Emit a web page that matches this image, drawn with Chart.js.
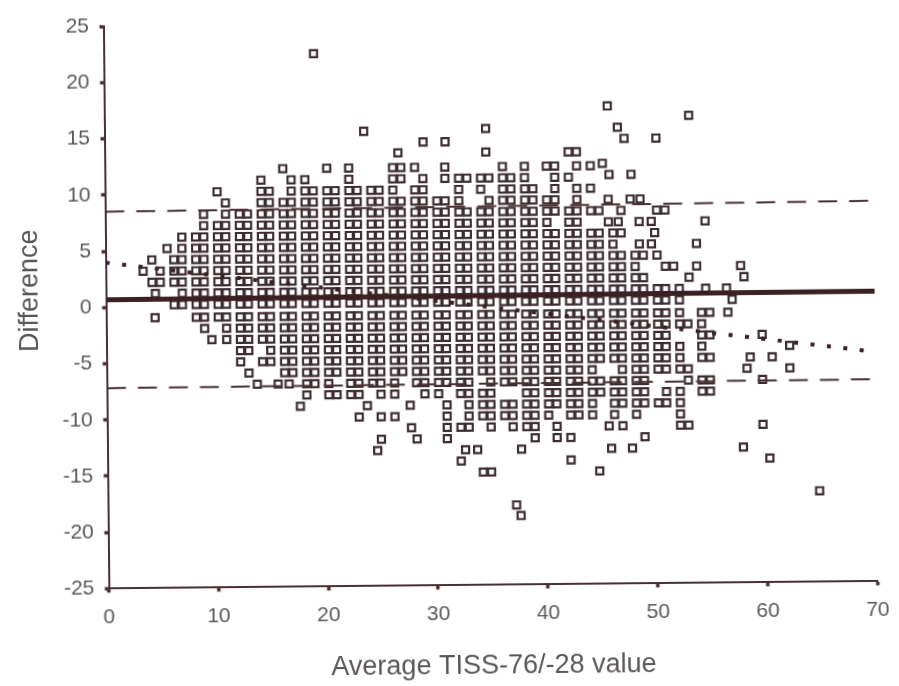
<!DOCTYPE html>
<html>
<head>
<meta charset="utf-8">
<script src="https://cdn.jsdelivr.net/npm/chart.js"></script>
<style>
  html, body { margin: 0; padding: 0; background: #ffffff; overflow: hidden; }
  #chart { display: block; transform: rotate(-0.55deg); transform-origin: 449.5px 343px; }
</style>
</head>
<body>
<canvas id="chart" width="899" height="686"></canvas>
<script>
// ---- Data ----
const xTicks = [0, 10, 20, 30, 40, 50, 60, 70];
const yTicks = [-25, -20, -15, -10, -5, 0, 5, 10, 15, 20, 25];

// Difference value of each row of markers
const diffRowValues = [12.2, 11.2, 10.2, 9.2, 8.2, 7.2, 6.2, 5.2, 4.2, 3.2, 2.2, 1.2, 0.2,
  -0.95, -1.95, -2.95, -3.95, -4.95, -5.95, -6.95, -7.95, -8.95, -9.95, -10.95, -11.95, -12.95, -13.95, -14.95];

// Average values of the markers on each row
const avgRowP12 = [16.2, 20.2, 22.2, 26.2, 26.95, 28.2, 30.95, 36.2, 38.2, 40.2, 40.95, 42.95, 44.2];
const avgRowP11 = [14.2, 16.95, 18.2, 22.2, 26.2, 26.95, 28.95, 30.95, 32.2, 32.95, 34.2, 34.95, 36.2, 36.95, 38.2, 40.95, 42.2];
const avgRowP10 = [10.2, 14.2, 14.95, 16.95, 18.2, 18.95, 20.2, 20.95, 22.2, 22.95, 24.2, 24.95, 26.2, 28.2, 28.95, 32.2, 34.2, 36.2, 36.95, 38.2, 38.95, 40.95, 42.95, 44.2];
const avgRowP9 = [10.95, 14.2, 14.95, 16.2, 16.95, 18.2, 18.95, 20.2, 20.95, 22.2, 22.95, 24.2, 24.95, 26.2, 26.95, 28.2, 28.95, 30.2, 30.95, 32.2, 34.95, 36.2, 36.95, 38.2, 38.95, 40.2, 40.95, 42.95, 45.8, 47.8, 48.7];
const avgRowP8 = [8.95, 10.95, 12.2, 12.95, 14.2, 14.95, 16.2, 16.95, 18.2, 18.95, 20.2, 20.95, 22.2, 22.95, 24.2, 24.95, 26.2, 26.95, 28.2, 28.95, 30.2, 30.95, 32.2, 32.95, 34.2, 34.95, 36.2, 36.95, 38.2, 38.95, 40.2, 40.95, 42.2, 42.95, 44.2, 44.95, 46.95, 50.2, 50.95];
const avgRowP7 = [8.95, 10.2, 10.95, 12.2, 12.95, 14.2, 14.95, 16.2, 16.95, 18.2, 18.95, 20.2, 20.95, 22.2, 22.95, 24.2, 24.95, 26.2, 26.95, 28.2, 28.95, 30.2, 30.95, 32.2, 32.95, 34.2, 34.95, 36.2, 36.95, 38.2, 38.95, 40.2, 42.2, 42.95, 45.8, 46.7, 48.6, 49.7, 54.6];
const avgRowP6 = [6.95, 8.2, 8.95, 10.2, 10.95, 12.2, 12.95, 14.2, 14.95, 16.2, 16.95, 18.2, 18.95, 20.2, 20.95, 22.2, 22.95, 24.2, 24.95, 26.2, 26.95, 28.2, 28.95, 30.2, 30.95, 32.2, 32.95, 34.2, 34.95, 36.2, 36.95, 38.2, 38.95, 40.2, 40.95, 42.2, 42.95, 44.2, 44.95, 46.2, 46.95, 50.0];
const avgRowP5 = [5.6, 6.95, 8.2, 8.95, 10.2, 10.95, 12.2, 12.95, 14.2, 14.95, 16.2, 16.95, 18.2, 18.95, 20.2, 20.95, 22.2, 22.95, 24.2, 24.95, 26.2, 26.95, 28.2, 28.95, 30.2, 30.95, 32.2, 32.95, 34.2, 34.95, 36.2, 36.95, 38.2, 38.95, 40.2, 40.95, 42.2, 42.95, 44.2, 44.95, 46.2, 48.6, 49.7, 53.8];
const avgRowP4 = [4.2, 6.2, 6.95, 8.2, 8.95, 10.2, 10.95, 12.2, 12.95, 14.2, 14.95, 16.2, 16.95, 18.2, 18.95, 20.2, 20.95, 22.2, 22.95, 24.2, 24.95, 26.2, 26.95, 28.2, 28.95, 30.2, 30.95, 32.2, 32.95, 34.2, 34.95, 36.2, 36.95, 38.2, 38.95, 40.2, 40.95, 42.2, 42.95, 44.2, 44.95, 46.2, 46.95, 48.2, 48.95, 50.2];
const avgRowP3 = [3.4, 4.95, 6.2, 6.95, 8.2, 8.95, 10.2, 10.95, 12.2, 12.95, 14.2, 14.95, 16.2, 16.95, 18.2, 18.95, 20.2, 20.95, 22.2, 22.95, 24.2, 24.95, 26.2, 26.95, 28.2, 28.95, 30.2, 30.95, 32.2, 32.95, 34.2, 34.95, 36.2, 36.95, 38.2, 38.95, 40.2, 40.95, 42.2, 42.95, 44.2, 44.95, 46.2, 46.95, 48.2, 50.95, 51.7, 53.8, 57.8];
const avgRowP2 = [4.2, 4.95, 6.2, 6.95, 8.2, 8.95, 10.2, 10.95, 12.2, 12.95, 14.2, 14.95, 16.2, 16.95, 18.2, 18.95, 20.2, 20.95, 22.2, 22.95, 24.2, 24.95, 26.2, 26.95, 28.2, 28.95, 30.2, 30.95, 32.2, 32.95, 34.2, 34.95, 36.2, 36.95, 38.2, 38.95, 40.2, 40.95, 42.2, 42.95, 44.2, 44.95, 46.2, 46.95, 48.2, 48.95, 53.1, 58.1];
const avgRowP1 = [4.5, 6.95, 8.2, 8.95, 10.2, 10.95, 12.2, 12.95, 14.2, 14.95, 16.2, 16.95, 18.2, 18.95, 20.2, 20.95, 22.2, 22.95, 24.2, 24.95, 26.2, 26.95, 28.2, 28.95, 30.2, 30.95, 32.2, 32.95, 34.2, 34.95, 36.2, 36.95, 38.2, 38.95, 40.2, 40.95, 42.2, 42.95, 44.2, 44.95, 46.2, 46.95, 48.2, 48.95, 50.2, 50.95, 52.2, 54.6, 56.5];
const avgRowP0 = [6.2, 6.95, 8.2, 8.95, 10.2, 10.95, 12.2, 12.95, 14.2, 14.95, 16.2, 16.95, 18.2, 18.95, 20.2, 20.95, 22.2, 22.95, 24.2, 24.95, 26.2, 26.95, 28.2, 28.95, 30.2, 30.95, 32.2, 32.95, 34.2, 34.95, 36.2, 36.95, 38.2, 38.95, 40.2, 40.95, 42.2, 42.95, 44.2, 44.95, 46.2, 46.95, 48.2, 48.95, 50.2, 50.95, 52.2, 57.0];
const avgRowM1 = [4.45, 8.2, 8.95, 10.2, 10.95, 12.2, 12.95, 14.2, 14.95, 16.2, 16.95, 18.2, 18.95, 20.2, 20.95, 22.2, 22.95, 24.2, 24.95, 26.2, 26.95, 28.2, 28.95, 30.2, 30.95, 32.2, 32.95, 34.2, 34.95, 36.2, 36.95, 38.2, 38.95, 40.2, 40.95, 42.2, 42.95, 44.2, 44.95, 46.2, 46.95, 48.2, 48.95, 50.2, 50.95, 52.2, 54.2, 54.95, 56.6];
const avgRowM2 = [8.95, 10.95, 12.2, 12.95, 14.2, 14.95, 16.2, 16.95, 18.2, 18.95, 20.2, 20.95, 22.2, 22.95, 24.2, 24.95, 26.2, 26.95, 28.2, 28.95, 30.2, 30.95, 32.2, 32.95, 34.2, 34.95, 36.2, 36.95, 38.2, 38.95, 40.2, 40.95, 42.2, 42.95, 44.2, 44.95, 46.2, 46.95, 48.2, 48.95, 50.2, 50.95, 52.2, 52.95, 54.2];
const avgRowM3 = [9.6, 10.95, 12.2, 12.95, 14.2, 14.95, 16.2, 16.95, 18.2, 18.95, 20.2, 20.95, 22.2, 22.95, 24.2, 24.95, 26.2, 26.95, 28.2, 28.95, 30.2, 30.95, 32.2, 32.95, 34.2, 34.95, 36.2, 36.95, 38.2, 38.95, 40.2, 40.95, 42.2, 42.95, 44.2, 44.95, 46.2, 46.95, 48.2, 48.95, 50.2, 50.95, 54.2, 54.95, 59.7];
const avgRowM4 = [12.2, 12.95, 14.95, 16.2, 16.95, 18.2, 18.95, 20.2, 20.95, 22.2, 22.95, 24.2, 24.95, 26.2, 26.95, 28.2, 28.95, 30.2, 30.95, 32.2, 32.95, 34.2, 34.95, 36.2, 36.95, 38.2, 38.95, 40.2, 40.95, 42.2, 42.95, 44.2, 44.95, 46.2, 46.95, 48.2, 48.95, 50.2, 50.95, 52.2, 54.2, 62.2];
const avgRowM5 = [12.2, 14.2, 14.95, 16.2, 16.95, 18.2, 18.95, 20.2, 20.95, 22.2, 22.95, 24.2, 24.95, 26.2, 26.95, 28.2, 28.95, 30.2, 30.95, 32.2, 32.95, 34.2, 34.95, 36.2, 36.95, 38.2, 38.95, 40.2, 40.95, 42.2, 42.95, 44.2, 44.95, 46.2, 46.95, 48.2, 48.95, 50.2, 50.95, 52.2, 54.2, 54.95, 58.6, 60.6];
const avgRowM6 = [12.95, 16.2, 16.95, 18.2, 18.95, 20.2, 20.95, 22.2, 22.95, 24.2, 24.95, 26.2, 26.95, 28.2, 28.95, 30.2, 30.95, 32.2, 32.95, 34.2, 34.95, 36.2, 36.95, 38.2, 38.95, 40.2, 40.95, 42.2, 42.95, 44.2, 46.95, 48.2, 48.95, 50.2, 50.95, 52.2, 52.95, 58.3, 62.2];
const avgRowM7 = [13.7, 15.6, 16.6, 18.2, 18.95, 20.2, 22.2, 22.95, 24.2, 24.95, 26.2, 28.2, 28.95, 30.2, 30.95, 32.2, 32.95, 34.95, 36.2, 36.95, 38.2, 38.95, 40.2, 40.95, 42.2, 42.95, 44.2, 44.95, 46.2, 46.95, 48.2, 48.95, 52.95, 54.2, 54.95, 59.7];
const avgRowM8 = [18.2, 20.2, 20.95, 22.2, 22.95, 24.95, 26.2, 28.95, 30.2, 32.2, 32.95, 34.2, 34.95, 38.2, 38.95, 40.2, 40.95, 42.2, 42.95, 44.2, 44.95, 46.2, 46.95, 48.2, 48.95, 50.95, 52.2, 54.2, 54.95];
const avgRowM9 = [17.6, 23.7, 27.6, 30.95, 32.95, 34.2, 34.95, 36.2, 36.95, 38.2, 38.95, 40.2, 40.95, 42.2, 42.95, 44.2, 46.2, 46.95, 48.2, 48.95, 50.2, 50.95, 52.2];
const avgRowM10 = [22.95, 24.95, 26.2, 30.95, 32.95, 34.2, 34.95, 36.2, 36.95, 38.2, 38.95, 40.2, 42.2, 42.95, 44.2, 46.2, 48.2, 52.2];
const avgRowM11 = [27.7, 30.95, 32.2, 32.95, 34.95, 36.95, 38.2, 38.95, 40.95, 45.7, 46.95, 52.2, 52.95, 59.7];
const avgRowM12 = [24.95, 28.2, 30.95, 38.95, 40.95, 42.2, 48.95];
const avgRowM13 = [24.6, 32.6, 33.7, 37.7, 45.9, 47.8, 57.9];
const avgRowM14 = [32.2, 42.2, 60.3];
const avgRowM15 = [34.2, 34.95, 44.8];

const avgRows = [avgRowP12, avgRowP11, avgRowP10, avgRowP9, avgRowP8, avgRowP7, avgRowP6, avgRowP5,
  avgRowP4, avgRowP3, avgRowP2, avgRowP1, avgRowP0, avgRowM1, avgRowM2, avgRowM3, avgRowM4, avgRowM5,
  avgRowM6, avgRowM7, avgRowM8, avgRowM9, avgRowM10, avgRowM11, avgRowM12, avgRowM13, avgRowM14, avgRowM15];

// isolated markers away from the rows
const outlierAvg  = [19.1, 23.6, 29.0, 31.0, 34.7, 34.7, 26.7, 42.2, 42.95, 45.8, 53.2, 46.7, 47.3, 50.2, 45.3, 45.9, 47.9, 64.8, 37.2, 37.6];
const outlierDiff = [22.4, 15.45, 14.45, 14.45, 15.6, 13.5, 13.5, 13.45, 13.45, 17.5, 16.6, 15.6, 14.6, 14.6, 12.4, 11.4, 11.4, -16.9, -17.9, -18.85];

// reference lines: x range and their difference values at both ends
const lineAvg = [0, 70];
const meanDiff = [0.68, 0.81];
const upperLimitDiff = [8.52, 8.84];
const lowerLimitDiff = [-7.17, -7.03];
const trendDiff = [3.99, -4.59];

// ---- Styling ----
const inkColor = '#4a2f33';
const markColor = '#3d2d30';
const textColor = '#5b5757';
const fontFamily = "'Liberation Sans', Arial, Helvetica, sans-serif";

const points = [];
avgRows.forEach((row, i) => row.forEach(x => points.push({ x: x, y: diffRowValues[i] })));
outlierAvg.forEach((x, i) => points.push({ x: x, y: outlierDiff[i] }));

function linePts(vals) { return lineAvg.map((x, i) => ({ x: x, y: vals[i] })); }

// y-axis title, centred a little above the middle of the axis as in the original
const yTitlePlugin = {
  id: 'yTitle',
  afterDraw(chart) {
    const ctx = chart.ctx;
    const area = chart.chartArea;
    ctx.save();
    ctx.translate(30.6, (area.top + area.bottom) / 2 - 17.5);
    ctx.rotate(-Math.PI / 2);
    ctx.font = '27px ' + fontFamily;
    ctx.fillStyle = textColor;
    ctx.textAlign = 'center';
    ctx.textBaseline = 'middle';
    ctx.fillText('Difference', 0, 0);
    ctx.restore();
  }
};

new Chart(document.getElementById('chart'), {
  type: 'scatter',
  data: {
    datasets: [
      { type: 'line', data: linePts(meanDiff), borderColor: '#3a1f23', borderWidth: 5, pointRadius: 0, order: 0 },
      { type: 'line', data: linePts(upperLimitDiff), borderColor: '#4a2f33', borderWidth: 2, borderDash: [19, 12], pointRadius: 0, order: 0 },
      { type: 'line', data: linePts(lowerLimitDiff), borderColor: '#4a2f33', borderWidth: 2, borderDash: [19, 12], pointRadius: 0, order: 0 },
      { type: 'line', data: linePts(trendDiff), borderColor: '#3a1f23', borderWidth: 4, borderDash: [4, 12.5], borderCapStyle: 'butt', pointRadius: 0, order: 0 },
      { data: points, pointStyle: 'rect', pointRadius: 5, borderWidth: 2.2, borderColor: markColor,
        backgroundColor: 'rgba(0,0,0,0)', order: 1 }
    ]
  },
  options: {
    responsive: false,
    animation: false,
    devicePixelRatio: 1,
    events: [],
    layout: { padding: { left: 0, right: 23.3, top: 11.7, bottom: 0 } },
    plugins: { legend: { display: false }, tooltip: { enabled: false } },
    scales: {
      x: {
        type: 'linear', min: 0, max: 70,
        afterBuildTicks: (s) => { s.ticks = xTicks.map(v => ({ value: v })); },
        afterFit: (s) => { s.height = 100.6; },
        ticks: { color: textColor, font: { family: fontFamily, size: 21 }, padding: 12 },
        border: { display: true, color: inkColor, width: 2 },
        grid: { drawOnChartArea: false, drawTicks: true, tickLength: 4, tickWidth: 3.5, tickColor: inkColor },
        title: { display: true, text: 'Average TISS-76/-28 value', color: textColor,
                 font: { family: fontFamily, size: 27 }, padding: { top: 0, bottom: 3.2 } }
      },
      y: {
        type: 'linear', min: -25, max: 25,
        afterBuildTicks: (s) => { s.ticks = yTicks.map(v => ({ value: v })); },
        afterFit: (s) => { s.width = 106.5; },
        ticks: { color: textColor, font: { family: fontFamily, size: 21 }, padding: 10.5 },
        border: { display: true, color: inkColor, width: 2 },
        grid: { drawOnChartArea: false, drawTicks: true, tickLength: 4, tickWidth: 3.5, tickColor: inkColor },
        title: { display: false }
      }
    }
  },
  plugins: [yTitlePlugin]
});
</script>
</body>
</html>
